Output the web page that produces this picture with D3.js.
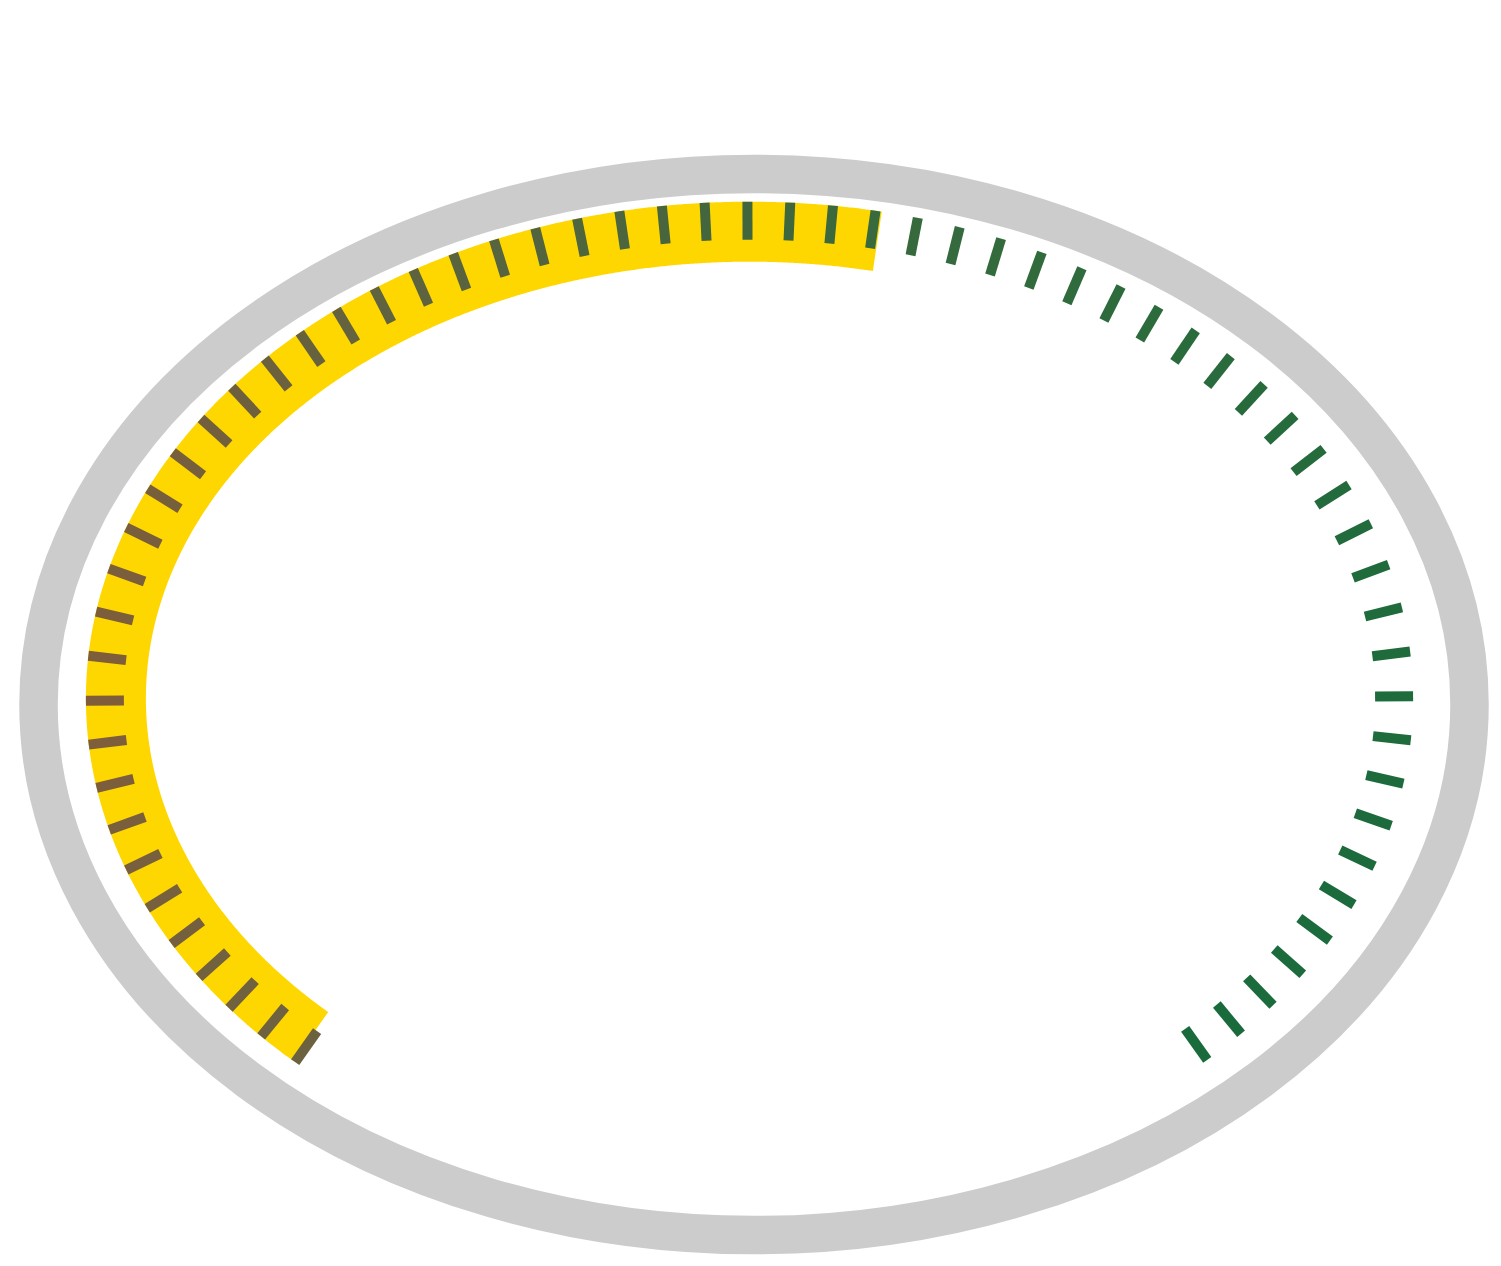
<!DOCTYPE html>
<html><head><meta charset="utf-8">
<script src="https://cdn.jsdelivr.net/npm/d3@7"></script>
<style>html,body{margin:0;padding:0;background:#fff;overflow:hidden}</style>
</head><body><svg id="chart" width="1501" height="1266"></svg>
<script>
// ---- data ----
const seriesNames = ["Progress"];
const seriesValues = [55];
const scaleExtent = [0, 100];
const tickIndex = d3.range(0, 63);      // 63 minor ticks along the gauge
const tickLabels = [];                  // no tick labels shown

// ---- layout ----
const W = 1501, H = 1266;
const svg = d3.select("#chart");

const ring = {cx: 754, cy: 704.5, rx: 715.5, ry: 530.6, w: 38.5};
svg.append("ellipse")
  .attr("cx", ring.cx).attr("cy", ring.cy)
  .attr("rx", ring.rx).attr("ry", ring.ry)
  .attr("fill", "none").attr("stroke", "#cccccc").attr("stroke-width", ring.w);

// midline of the progress band: upper half / lower half radii
const G = {cx: 749.5, cy: 698.5, a: 633.6, b: 466.8, bLow: 468.5, band: 60};
const bOf = t => (Math.sin(t) >= 0 ? G.b : G.bLow);

// sample the midline clockwise (on screen) starting at the bottom
const N = 7200;
const samples = [];
let acc = 0, prev = null;
for (let i = 0; i <= N; i++) {
  const t = 1.5 * Math.PI - (i / N) * 2 * Math.PI;
  const x = G.cx + G.a * Math.cos(t), y = G.cy - bOf(t) * Math.sin(t);
  if (prev) acc += Math.hypot(x - prev[0], y - prev[1]);
  samples.push({t, s: acc});
  prev = [x, y];
}
const P = acc;
const quarterUp = samples.find(d => d.t <= Math.PI).s;          // left horizontal
const quarterRight = samples.find(d => d.t <= 0).s;             // right horizontal
const bis = d3.bisector(d => d.s).left;
function at(s) {
  s = Math.max(0, Math.min(P, s));
  let j = bis(samples, s);
  if (j <= 0) j = 1;
  const p0 = samples[j - 1], p1 = samples[j];
  const f = p1.s === p0.s ? 0 : (s - p0.s) / (p1.s - p0.s);
  const t = p0.t + (p1.t - p0.t) * f;
  const bb = bOf(t);
  const x = G.cx + G.a * Math.cos(t), y = G.cy - bb * Math.sin(t);
  let nx = (x - G.cx) / (G.a * G.a), ny = (y - G.cy) / (bb * bb);
  const nl = Math.hypot(nx, ny); nx /= nl; ny /= nl;
  return {x, y, nx, ny};
}

// tick spacing: 21 steps per upper quadrant, slightly tighter steps below the horizontal
const step = (quarterRight - quarterUp) / 42;
const lowStep = step * 0.98;
const tickScale = d3.scaleLinear()
  .domain([0, 10, 52, 62])
  .range([quarterUp - 10 * lowStep, quarterUp, quarterRight, quarterRight + 10 * lowStep]);
const valueScale = d3.scaleLinear().domain(scaleExtent).range([0, 62]);

// progress band
const sStart = tickScale(0), sVal = tickScale(valueScale(seriesValues[0]));
const bandPts = d3.range(sStart, sVal, 2).concat([sVal]).map(s => { const p = at(s); return [p.x, p.y]; });
svg.append("path")
  .attr("d", d3.line()(bandPts))
  .attr("fill", "none").attr("stroke", "#FFD700")
  .attr("stroke-width", G.band).attr("stroke-linecap", "butt");

// ticks
const tickColor = d3.scaleLinear()
  .domain([0, 5, 10, 16, 22, 31, 34, 40, 50, 62])
  .range(["#6c6240", "#76603e", "#805d3a", "#765f3c", "#60633f", "#41663e", "#386a3d", "#2d6b3c", "#1f6b3c", "#1a6b3c"])
  .interpolate(d3.interpolateRgb);
const outer = G.band / 2, tickLen = 38;
svg.append("g").selectAll("line").data(tickIndex).join("line")
  .each(function(k) {
    const p = at(tickScale(k) - 2);
    d3.select(this)
      .attr("x1", p.x + p.nx * outer).attr("y1", p.y + p.ny * outer)
      .attr("x2", p.x + p.nx * (outer - tickLen)).attr("y2", p.y + p.ny * (outer - tickLen));
  })
  .attr("stroke", k => tickColor(k)).attr("stroke-width", 10).attr("stroke-linecap", "butt");
</script>
</body></html>
